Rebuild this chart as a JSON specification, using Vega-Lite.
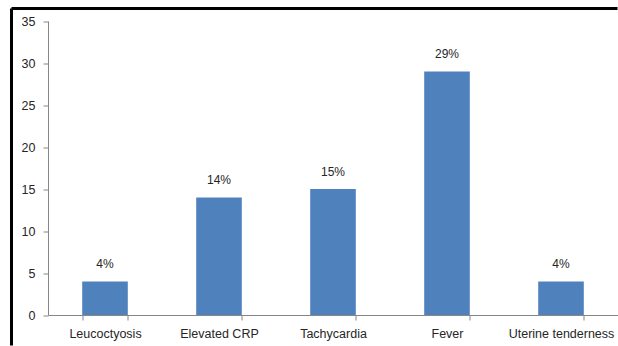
{
  "$schema": "https://vega.github.io/schema/vega-lite/v6.json",
  "width": 606,
  "height": 337,
  "autosize": {"type": "none"},
  "padding": {"left": 11.5, "top": 8.5, "right": 0, "bottom": 0},
  "background": "white",
  "config": {
    "font": "Liberation Sans",
    "view": {"stroke": "#000000", "strokeWidth": 3, "strokeDash": [606, 943, 337, 0]}
  },
  "data": {
    "values": [
      {"sign": "Leucoctyosis", "value": 4, "label": "4%"},
      {"sign": "Elevated CRP", "value": 14, "label": "14%"},
      {"sign": "Tachycardia", "value": 15, "label": "15%"},
      {"sign": "Fever", "value": 29, "label": "29%"},
      {"sign": "Uterine tenderness", "value": 4, "label": "4%"}
    ]
  },
  "encoding": {
    "x": {
      "field": "sign",
      "type": "nominal",
      "sort": null,
      "scale": {"range": [36.5, 606.5], "paddingInner": 0.6, "paddingOuter": 0.3},
      "axis": {
        "title": null,
        "orient": "bottom",
        "offset": -30.5,
        "labelAngle": 0,
        "tickBand": "extent",
        "domainColor": "#868686",
        "tickColor": "#868686",
        "tickSize": 5,
        "labelPadding": 7,
        "labelFontSize": 12.5,
        "labelColor": "#262626"
      }
    },
    "y": {
      "field": "value",
      "type": "quantitative",
      "scale": {"domain": [0, 35], "range": [306.5, 12.5], "nice": false},
      "axis": {
        "title": null,
        "orient": "left",
        "offset": -36.5,
        "values": [0, 5, 10, 15, 20, 25, 30, 35],
        "grid": false,
        "domainColor": "#868686",
        "tickColor": "#868686",
        "tickSize": 5,
        "labelPadding": 8,
        "labelFontSize": 12.5,
        "labelColor": "#262626"
      }
    }
  },
  "layer": [
    {"mark": {"type": "bar", "color": "#4F81BD"}},
    {
      "mark": {"type": "text", "baseline": "middle", "dy": -17, "fontSize": 12, "color": "#262626"},
      "encoding": {"text": {"field": "label"}}
    }
  ]
}
